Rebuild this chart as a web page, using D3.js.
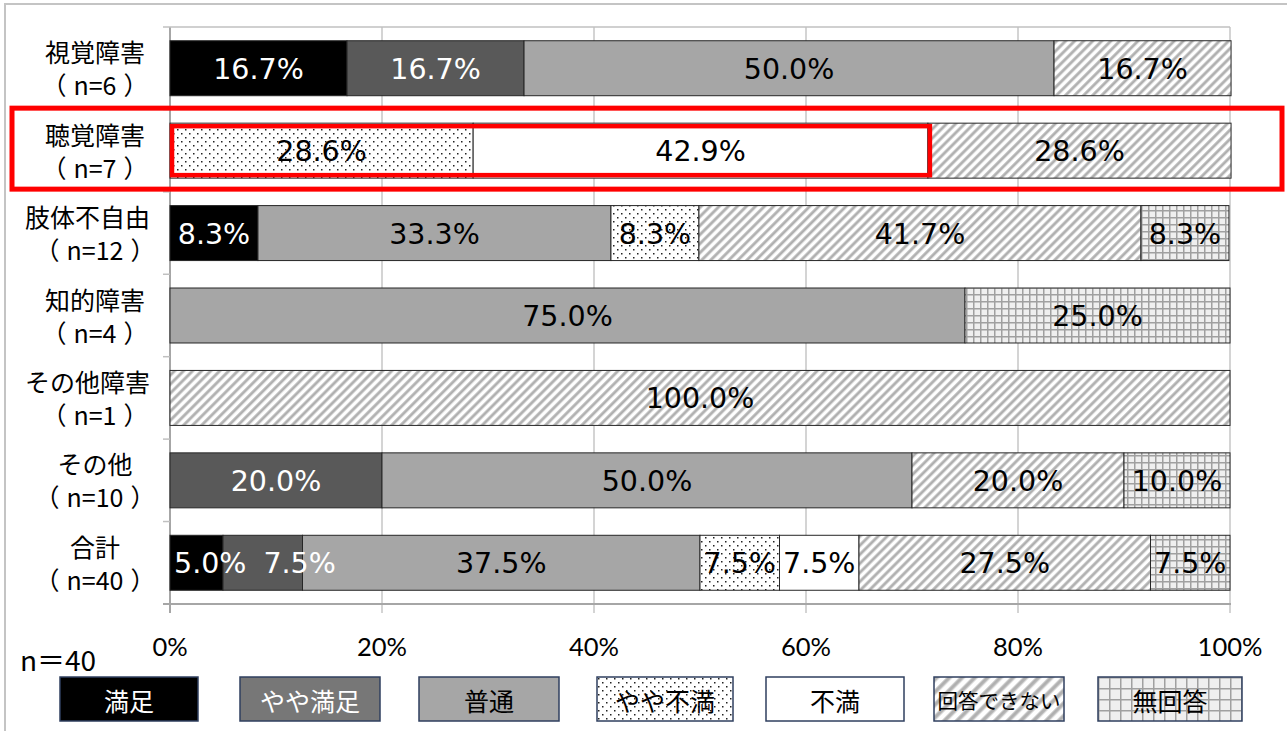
<!DOCTYPE html>
<html>
<head>
<meta charset="utf-8">
<script src="https://cdn.jsdelivr.net/npm/d3@7"></script>
<style>
  body { margin: 0; background: #fff; }
  svg { display: block; }
</style>
</head>
<body>
<svg id="chart" width="1287" height="731"></svg>
<script>
// 障害種別ごとの満足度 (%)
const categories = ['視覚障害', '聴覚障害', '肢体不自由', '知的障害', 'その他障害', 'その他', '合計']
const counts = ['n=6', 'n=7', 'n=12', 'n=4', 'n=1', 'n=10', 'n=40']
const responses = ['満足', 'やや満足', '普通', 'やや不満', '不満', '回答できない', '無回答']

const satisfied = [16.7, 0, 8.3, 0, 0, 0, 5.0]
const fairlySatisfied = [16.7, 0, 0, 0, 0, 20.0, 7.5]
const neutral = [50.0, 0, 33.3, 75.0, 0, 50.0, 37.5]
const fairlyDissatisfied = [0, 28.6, 8.3, 0, 0, 0, 7.5]
const dissatisfied = [0, 42.9, 0, 0, 0, 0, 7.5]
const cannotAnswer = [16.7, 28.6, 41.7, 0, 100.0, 20.0, 27.5]
const noAnswer = [0, 0, 8.3, 25.0, 0, 10.0, 7.5]

const xTicks = [0, 20, 40, 60, 80, 100]
const totalLabel = 'n＝40'
const highlighted = '聴覚障害'

const series = [satisfied, fairlySatisfied, neutral, fairlyDissatisfied, dissatisfied, cannotAnswer, noAnswer]
const table = categories.map((c, i) => {
  const row = { category: c, count: counts[i] }
  responses.forEach((r, j) => { row[r] = series[j][i] })
  return row
})

const svg = d3.select('#chart')
const width = 1287
const height = 731

const fills = {
  '満足': '#000000',
  'やや満足': '#595959',
  '普通': '#a6a6a6',
  'やや不満': 'url(#dots)',
  '不満': '#ffffff',
  '回答できない': 'url(#hatch)',
  '無回答': 'url(#grid)'
}
const legendFills = Object.assign({}, fills, {
  'やや満足': '#777777',
  '回答できない': 'url(#hatchBig)',
  '無回答': 'url(#gridBig)'
})
const whiteText = ['満足', 'やや満足']

// patterns
const defs = svg.append('defs')
const dots = defs.append('pattern').attr('id', 'dots')
  .attr('patternUnits', 'userSpaceOnUse').attr('width', 8).attr('height', 8)
dots.append('rect').attr('width', 8).attr('height', 8).attr('fill', '#fff')
dots.append('rect').attr('x', 1).attr('y', 1).attr('width', 1.5).attr('height', 1.5).attr('fill', '#222')
dots.append('rect').attr('x', 5).attr('y', 5).attr('width', 1.5).attr('height', 1.5).attr('fill', '#222')

const makeHatch = (id, size, stripe) => {
  const p = defs.append('pattern').attr('id', id)
    .attr('patternUnits', 'userSpaceOnUse').attr('width', size).attr('height', size)
    .attr('patternTransform', 'rotate(45)')
  p.append('rect').attr('width', size).attr('height', size).attr('fill', '#fff')
  p.append('rect').attr('x', 0).attr('width', stripe).attr('height', size).attr('fill', '#d0d0d0')
  p.append('rect').attr('x', stripe * 0.2).attr('width', stripe * 0.6).attr('height', size).attr('fill', '#b0b0b0')
}
makeHatch('hatch', 6.4, 3.4)
makeHatch('hatchBig', 9, 4.6)

const makeGrid = (id, size) => {
  const p = defs.append('pattern').attr('id', id)
    .attr('patternUnits', 'userSpaceOnUse').attr('width', size).attr('height', size)
  p.append('rect').attr('width', size).attr('height', size).attr('fill', '#efefef')
  p.append('rect').attr('width', 1.5).attr('height', size).attr('fill', '#a0a0a0')
  p.append('rect').attr('width', size).attr('height', 1.5).attr('fill', '#a0a0a0')
}
makeGrid('grid', 7)
makeGrid('gridBig', 11)

// outer frame
svg.append('path')
  .attr('d', `M5,${height} V4 H${width}`)
  .attr('fill', 'none').attr('stroke', '#c4c4c4').attr('stroke-width', 2)

const xScale = d3.scaleLinear().domain([0, 100]).range([170, 1230])
const yScale = d3.scaleBand().domain(categories).range([27, 604])
  .paddingInner(0.333).paddingOuter(0.1667)

const plotTop = 27
const plotBottom = 604

// gridlines + ticks below axis
svg.append('g').selectAll('line').data(xTicks).join('line')
  .attr('x1', d => xScale(d)).attr('x2', d => xScale(d))
  .attr('y1', plotTop).attr('y2', plotBottom + 9)
  .attr('stroke', d => d === 0 ? '#a6a6a6' : '#c6c6c6')
  .attr('stroke-width', d => d === 0 ? 2 : 1.5)

// category boundary ticks
const step = yScale.step()
const boundaries = d3.range(categories.length + 1).map(i => plotTop + i * step)
svg.append('g').selectAll('line').data(boundaries).join('line')
  .attr('x1', 163).attr('x2', (d, i) => i === 0 ? xScale(100) : xScale(0))
  .attr('y1', d => d).attr('y2', d => d)
  .attr('stroke', '#c0c0c0').attr('stroke-width', 1.5)

// x axis line
svg.append('line')
  .attr('x1', 163).attr('x2', xScale(100) + 1)
  .attr('y1', plotBottom).attr('y2', plotBottom)
  .attr('stroke', '#a6a6a6').attr('stroke-width', 2)

// tick labels
svg.append('g').selectAll('text').data(xTicks).join('text')
  .attr('x', d => xScale(d)).attr('y', 646)
  .attr('text-anchor', 'middle').attr('dominant-baseline', 'central')
  .style('font-family', 'Lato, sans-serif').style('font-size', '25.5px').style('fill', '#000')
  .text(d => `${d}%`)

// stacked bars
const stacked = d3.stack().keys(responses)(table)
const barG = svg.append('g')
stacked.forEach(s => {
  barG.append('g').selectAll('rect').data(s.filter(d => d[1] - d[0] > 0)).join('rect')
    .attr('x', d => xScale(d[0]))
    .attr('y', d => yScale(d.data.category))
    .attr('width', d => xScale(d[1]) - xScale(d[0]))
    .attr('height', yScale.bandwidth())
    .attr('fill', fills[s.key])
    .attr('stroke', '#262626').attr('stroke-width', 1)
})

// segment labels, nudged right when they would overlap (like Excel does)
const labelItems = []
stacked.forEach(s => {
  s.forEach(d => {
    if (d[1] - d[0] <= 0) return
    labelItems.push({ key: s.key, d })
  })
})
const segLabels = barG.append('g').selectAll('text').data(labelItems).join('text')
  .attr('x', e => (xScale(e.d[0]) + xScale(e.d[1])) / 2)
  .attr('y', e => yScale(e.d.data.category) + yScale.bandwidth() / 2 + 1)
  .attr('text-anchor', 'middle').attr('dominant-baseline', 'central')
  .style('font-family', '"DejaVu Sans", sans-serif').style('font-size', '28.5px')
  .style('fill', e => whiteText.includes(e.key) ? '#fff' : '#000')
  .text(e => `${(e.d[1] - e.d[0]).toFixed(1)}%`)

categories.forEach(c => {
  let prevRight = -Infinity
  segLabels.filter(e => e.d.data.category === c).each(function () {
    const el = d3.select(this)
    const w = this.getComputedTextLength()
    let left = +el.attr('x') - w / 2
    if (left < xScale(0) + 4) left = xScale(0) + 4
    if (left < prevRight) left = prevRight + 17
    el.attr('x', left + w / 2)
    prevRight = left + w
  })
})

// category labels
const labelG = svg.append('g')
const labelFont = '"Noto Sans CJK JP", sans-serif'
categories.forEach((c, i) => {
  const cy = yScale(c) + yScale.bandwidth() / 2
  const l1 = labelG.append('text')
    .attr('x', 95).attr('y', cy - 17)
    .attr('text-anchor', 'middle').attr('dominant-baseline', 'central')
    .style('font-family', labelFont).style('font-size', '25px').style('fill', '#000')
    .text(c)
  const w = l1.node().getComputedTextLength()
  if (95 + w / 2 > 150) l1.attr('x', 150 - w / 2)

  const l2 = labelG.append('text')
    .attr('x', 95).attr('y', cy + 16)
    .attr('text-anchor', 'middle').attr('dominant-baseline', 'central')
    .style('font-family', labelFont).style('font-size', '25px').style('fill', '#000')
  l2.append('tspan').text('（')
  l2.append('tspan').attr('dx', 7).text(counts[i])
  l2.append('tspan').attr('dx', 7).text('）')
})

// highlight boxes
const hy = yScale(highlighted)
const hi = categories.indexOf(highlighted)
const innerEnd = fairlyDissatisfied[hi] + dissatisfied[hi]
svg.append('rect')
  .attr('x', 12).attr('y', hy - 15)
  .attr('width', 1270).attr('height', yScale.bandwidth() + 26)
  .attr('fill', 'none').attr('stroke', '#ff0000').attr('stroke-width', 5)
svg.append('rect')
  .attr('x', xScale(0) + 2).attr('y', hy + 3)
  .attr('width', xScale(innerEnd) - xScale(0)).attr('height', yScale.bandwidth() - 6)
  .attr('fill', 'none').attr('stroke', '#ff0000').attr('stroke-width', 4.5)

// n=40
svg.append('text')
  .attr('x', 20).attr('y', 659)
  .attr('dominant-baseline', 'central')
  .style('font-family', '"Noto Sans CJK JP", sans-serif').style('font-size', '28px').style('fill', '#000')
  .text(totalLabel)

// legend
const legendX = [60, 240, 419, 597, 766, 934, 1098]
const legendW = [138, 140, 140, 136, 138, 130, 144]
const legend = svg.append('g').selectAll('g').data(responses).join('g')
  .attr('transform', (d, i) => `translate(${legendX[i]},677)`)
legend.append('rect')
  .attr('width', (d, i) => legendW[i]).attr('height', 44)
  .attr('fill', d => legendFills[d])
  .attr('stroke', '#2f3f5f').attr('stroke-width', 1.5)
legend.append('text')
  .attr('x', (d, i) => legendW[i] / 2).attr('y', 23)
  .attr('text-anchor', 'middle').attr('dominant-baseline', 'central')
  .style('font-family', '"Noto Sans CJK JP", sans-serif')
  .style('font-size', d => d.length > 5 ? '20.5px' : '25px')
  .style('fill', d => whiteText.includes(d) ? '#fff' : '#000')
  .text(d => d)
</script>
</body>
</html>
